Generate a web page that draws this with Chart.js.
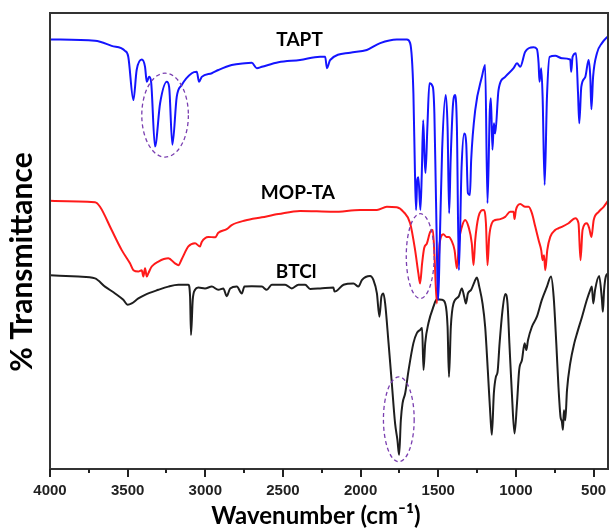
<!DOCTYPE html>
<html>
<head>
<meta charset="utf-8">
<script src="https://cdn.jsdelivr.net/npm/chart.js@4.4.1/dist/chart.umd.min.js"></script>
<style>
  html, body { margin: 0; padding: 0; background: #fff; }
  #ftirChart { display: block; }
</style>
</head>
<body>
<canvas id="ftirChart" width="609" height="532"></canvas>
<script>
// FTIR spectra, wavenumber (cm-1) vs. offset transmittance (arb. units, 0-100)
const taptWn = [4000, 3710, 3603, 3517, 3496, 3463, 3442, 3409, 3388, 3377, 3362, 3349, 3324, 3291, 3248, 3233, 3212, 3184, 3152, 3087,
  3055, 3040, 3023, 2958, 2916, 2830, 2744, 2701, 2668, 2636, 2529, 2390, 2261, 2228, 2217, 2196, 2067, 1960, 1874, 1767,
  1702, 1681, 1660, 1650, 1643, 1635, 1628, 1615, 1606, 1597, 1588, 1582, 1570, 1557, 1535, 1525, 1515, 1500, 1490, 1475,
  1452, 1440, 1430, 1420, 1405, 1391, 1380, 1367, 1350, 1333, 1320, 1309, 1296, 1288, 1262, 1219, 1198, 1183, 1168, 1161,
  1151, 1142, 1133, 1112, 1069, 1015, 993, 972, 940, 887, 865, 854, 848, 837, 828, 815, 800, 783, 747, 704,
  650, 644, 635, 613, 600, 592, 579, 553, 532, 521, 514, 503, 478, 446, 407];
const taptT = [94.2, 93.9, 92.8, 91.7, 90.4, 80.9, 87.5, 89.8, 88.2, 84.9, 86.0, 84.9, 70.7, 80.2, 84.9, 83.8, 71.1, 81.6, 84.2, 86.8,
  87.1, 84.9, 86.0, 86.8, 87.5, 88.6, 89.0, 89.1, 87.9, 88.2, 89.2, 89.7, 90.4, 90.4, 87.9, 89.7, 91.3, 91.9, 93.4, 94.2,
  94.2, 93.4, 82.4, 65.0, 56.8, 63.5, 64.0, 56.8, 64.8, 76.5, 68.0, 64.9, 75.0, 84.6, 83.8, 78.0, 60.0, 37.1, 50.0, 70.0,
  82.0, 75.0, 56.1, 68.0, 80.0, 82.0, 75.0, 43.6, 66.0, 73.6, 71.4, 60.5, 60.1, 67.8, 78.7, 86.0, 88.6, 58.3, 78.7, 81.3,
  70.0, 75.8, 73.6, 83.1, 86.0, 87.9, 89.0, 88.2, 91.5, 92.5, 92.1, 89.0, 84.9, 87.9, 81.6, 62.3, 81.6, 90.4, 90.6, 90.1,
  89.8, 87.1, 90.4, 91.2, 82.4, 75.8, 83.8, 86.0, 89.7, 86.0, 78.9, 86.0, 91.2, 93.4, 94.9];

const mopWn = [4000, 3710, 3678, 3603, 3538, 3485, 3463, 3431, 3409, 3399, 3388, 3377, 3367, 3345, 3302, 3238, 3195, 3173, 3152, 3109,
  3066, 3034, 3023, 2980, 2937, 2916, 2862, 2830, 2744, 2636, 2529, 2390, 2175, 2003, 1895, 1831, 1767, 1724, 1681, 1649,
  1628, 1617, 1604, 1591, 1573, 1552, 1535, 1524, 1509, 1491, 1467, 1448, 1431, 1416, 1395, 1380, 1365, 1348, 1327, 1305,
  1284, 1273, 1262, 1241, 1209, 1193, 1183, 1172, 1155, 1133, 1101, 1069, 1037, 1015, 1009, 1000, 972, 940, 918, 897,
  875, 854, 837, 828, 819, 811, 798, 779, 747, 726, 704, 661, 618, 597, 584, 571, 543, 528, 514, 499,
  467, 435, 407];
const mopT = [58.8, 58.5, 57.5, 52.4, 48.0, 45.1, 43.6, 43.3, 43.6, 42.2, 44.0, 42.2, 42.9, 44.4, 45.5, 46.2, 45.1, 44.7, 46.0, 48.8,
  49.5, 48.8, 49.8, 50.9, 50.8, 51.8, 52.6, 53.5, 54.5, 55.2, 55.9, 56.6, 56.4, 56.8, 56.8, 57.5, 57.4, 56.4, 53.9, 48.0,
  42.9, 40.7, 45.1, 48.4, 49.5, 52.0, 52.4, 46.6, 36.3, 49.5, 51.5, 50.9, 50.9, 50.2, 48.0, 44.0, 50.2, 53.1, 54.6, 53.1,
  49.5, 44.7, 50.2, 55.3, 56.8, 53.9, 44.7, 50.9, 53.9, 54.6, 54.8, 55.3, 56.4, 56.4, 54.8, 56.8, 58.1, 57.5, 57.5, 56.1,
  53.1, 50.2, 48.0, 45.8, 46.9, 43.6, 48.0, 50.9, 52.4, 52.8, 53.1, 53.9, 55.0, 53.9, 45.8, 52.4, 53.9, 52.8, 50.9, 54.6,
  56.4, 57.5, 58.8];

const btclWn = [4000, 3817, 3710, 3646, 3581, 3528, 3500, 3474, 3431, 3388, 3302, 3238, 3173, 3109, 3098, 3092, 3081, 3066, 3045, 3002,
  2958, 2916, 2884, 2862, 2840, 2797, 2765, 2748, 2701, 2636, 2604, 2572, 2486, 2443, 2400, 2357, 2325, 2261, 2175, 2168,
  2110, 2046, 2014, 1992, 1939, 1917, 1895, 1879, 1866, 1853, 1842, 1820, 1799, 1778, 1763, 1752, 1741, 1730, 1713, 1691,
  1660, 1638, 1617, 1604, 1595, 1584, 1563, 1531, 1509, 1477, 1455, 1440, 1431, 1419, 1402, 1369, 1348, 1333, 1322, 1309,
  1288, 1266, 1251, 1236, 1215, 1198, 1181, 1164, 1155, 1142, 1129, 1118, 1105, 1086, 1069, 1054, 1042, 1026, 1009, 993,
  979, 961, 944, 933, 922, 897, 865, 833, 800, 774, 757, 740, 726, 713, 704, 697, 691, 682, 671, 650,
  624, 606, 574, 543, 521, 511, 502, 490, 464, 446, 440, 432, 421, 407];
const btclT = [42.5, 42.2, 41.8, 40.0, 38.5, 37.1, 36.0, 36.3, 37.4, 38.2, 39.3, 40.0, 40.4, 40.4, 37.8, 29.4, 37.1, 39.3, 39.8, 39.6,
  40.0, 39.3, 39.6, 37.9, 39.6, 40.0, 38.5, 40.0, 40.1, 40.0, 39.3, 40.4, 40.4, 39.6, 40.4, 40.4, 39.5, 39.6, 39.8, 38.9,
  40.4, 40.7, 40.0, 41.4, 42.3, 41.4, 38.5, 33.4, 37.8, 38.5, 36.3, 27.6, 18.8, 10.0, 6.4, 3.1, 10.7, 14.4, 16.6, 21.7,
  27.6, 29.8, 30.5, 30.9, 21.7, 27.6, 32.0, 35.6, 37.2, 37.1, 36.3, 31.2, 20.2, 31.2, 36.3, 37.8, 39.6, 37.8, 36.3, 38.5,
  39.3, 41.1, 42.0, 40.0, 36.3, 31.2, 21.7, 11.5, 7.5, 16.6, 20.2, 21.3, 27.6, 34.9, 38.4, 36.3, 27.6, 16.6, 7.8, 14.4,
  21.7, 23.9, 27.6, 26.1, 28.3, 31.2, 33.4, 37.1, 40.0, 42.2, 37.8, 27.6, 18.0, 11.5, 10.4, 8.6, 12.9, 10.7, 17.3, 23.2,
  27.6, 29.8, 33.4, 37.1, 39.3, 40.0, 36.3, 39.3, 42.3, 37.1, 34.5, 39.3, 42.2, 42.9];

const xTicks = [4000, 3750, 3500, 3250, 3000, 2750, 2500, 2250, 2000, 1750, 1500, 1250, 1000, 750, 500];

// spectrum names and where they sit (wavenumber, transmittance)
const seriesNames = ['TAPT', 'MOP-TA', 'BTCl'];
const nameWn = [2393, 2404, 2415];
const nameT = [94.1, 60.5, 43.3];

// dashed rings around the key bands: centre and half-extent in data units
const ringWn = [3259, 1616, 1754];
const ringT = [77.6, 46.7, 10.9];
const ringHalfWn = [150, 90, 99];
const ringHalfT = [9.2, 9.3, 9.3];

const xTitle = 'Wavenumber (cm\u207B\u00B9)';
const yTitle = '% Transmittance';

const toPoints = (wn, t) => wn.map((w, i) => ({ x: w, y: t[i] }));

const overlays = {
  id: 'overlays',
  afterDatasetsDraw(chart) {
    const { ctx, chartArea: a, scales: { x, y } } = chart;
    ctx.save();

    // dashed purple rings
    ctx.strokeStyle = '#7a3fb0';
    ctx.lineWidth = 1.3;
    ctx.setLineDash([4, 3]);
    ringWn.forEach((w, i) => {
      const cx = x.getPixelForValue(w);
      const cy = y.getPixelForValue(ringT[i]);
      const rx = Math.abs(x.getPixelForValue(w + ringHalfWn[i]) - cx);
      const ry = Math.abs(y.getPixelForValue(ringT[i] + ringHalfT[i]) - cy);
      ctx.beginPath();
      ctx.ellipse(cx, cy, rx, ry, 0, 0, Math.PI * 2);
      ctx.stroke();
    });
    ctx.setLineDash([]);

    // series names
    ctx.fillStyle = '#000';
    ctx.font = 'bold 19px Lato, "Open Sans", sans-serif';
    ctx.textAlign = 'center';
    ctx.textBaseline = 'middle';
    seriesNames.forEach((n, i) => {
      ctx.fillText(n, x.getPixelForValue(nameWn[i]), y.getPixelForValue(nameT[i]));
    });

    // frame
    ctx.strokeStyle = '#333';
    ctx.lineWidth = 2;
    ctx.strokeRect(a.left, a.top, a.right - a.left, a.bottom - a.top);

    // outward tick marks, long at every 500
    ctx.strokeStyle = '#222';
    ctx.beginPath();
    xTicks.forEach(v => {
      const px = Math.round(x.getPixelForValue(v));
      ctx.moveTo(px, a.bottom);
      ctx.lineTo(px, a.bottom + (v % 500 === 0 ? 8 : 4));
    });
    ctx.stroke();

    // axis titles
    ctx.font = 'bold 24px Lato, "DejaVu Sans", sans-serif';
    ctx.fillText(xTitle, 316, 516);
    ctx.translate(22, 262);
    ctx.rotate(-Math.PI / 2);
    ctx.font = 'bold 30px Lato, "DejaVu Sans", sans-serif';
    ctx.fillText(yTitle, 0, 0);
    ctx.restore();
  }
};

const ctx = document.getElementById('ftirChart').getContext('2d');
new Chart(ctx, {
  type: 'line',
  data: {
    datasets: [
      { label: 'TAPT', data: toPoints(taptWn, taptT), borderColor: '#1414ff' },
      { label: 'MOP-TA', data: toPoints(mopWn, mopT), borderColor: '#ff1a1a' },
      { label: 'BTCl', data: toPoints(btclWn, btclT), borderColor: '#1e1e1e' }
    ]
  },
  options: {
    responsive: false,
    devicePixelRatio: 1,
    animation: false,
    layout: { padding: { top: 13, right: 1, left: 0, bottom: 0 } },
    elements: {
      line: { borderWidth: 2, cubicInterpolationMode: 'monotone', fill: false },
      point: { radius: 0 }
    },
    plugins: {
      legend: { display: false },
      tooltip: { enabled: false }
    },
    scales: {
      x: {
        type: 'linear',
        reverse: true,
        min: 407,
        max: 4000,
        grid: { display: false, drawTicks: false },
        border: { display: false },
        afterBuildTicks: (s) => { s.ticks = xTicks.map(v => ({ value: v })); },
        afterFit: (s) => {
          s.height = 63;
          s.paddingLeft = 0;
          s.paddingRight = 0;
        },
        ticks: {
          autoSkip: false,
          maxRotation: 0,
          padding: 13,
          color: '#222',
          font: { family: '"Liberation Sans", Arial, sans-serif', size: 15, weight: 'bold' },
          callback: (v) => (v % 500 === 0 ? String(v) : '')
        }
      },
      y: {
        min: 0,
        max: 100,
        grid: { display: false, drawTicks: false },
        border: { display: false },
        ticks: { display: false },
        afterFit: (s) => { s.width = 50; }
      }
    }
  },
  plugins: [overlays]
});
</script>
</body>
</html>
